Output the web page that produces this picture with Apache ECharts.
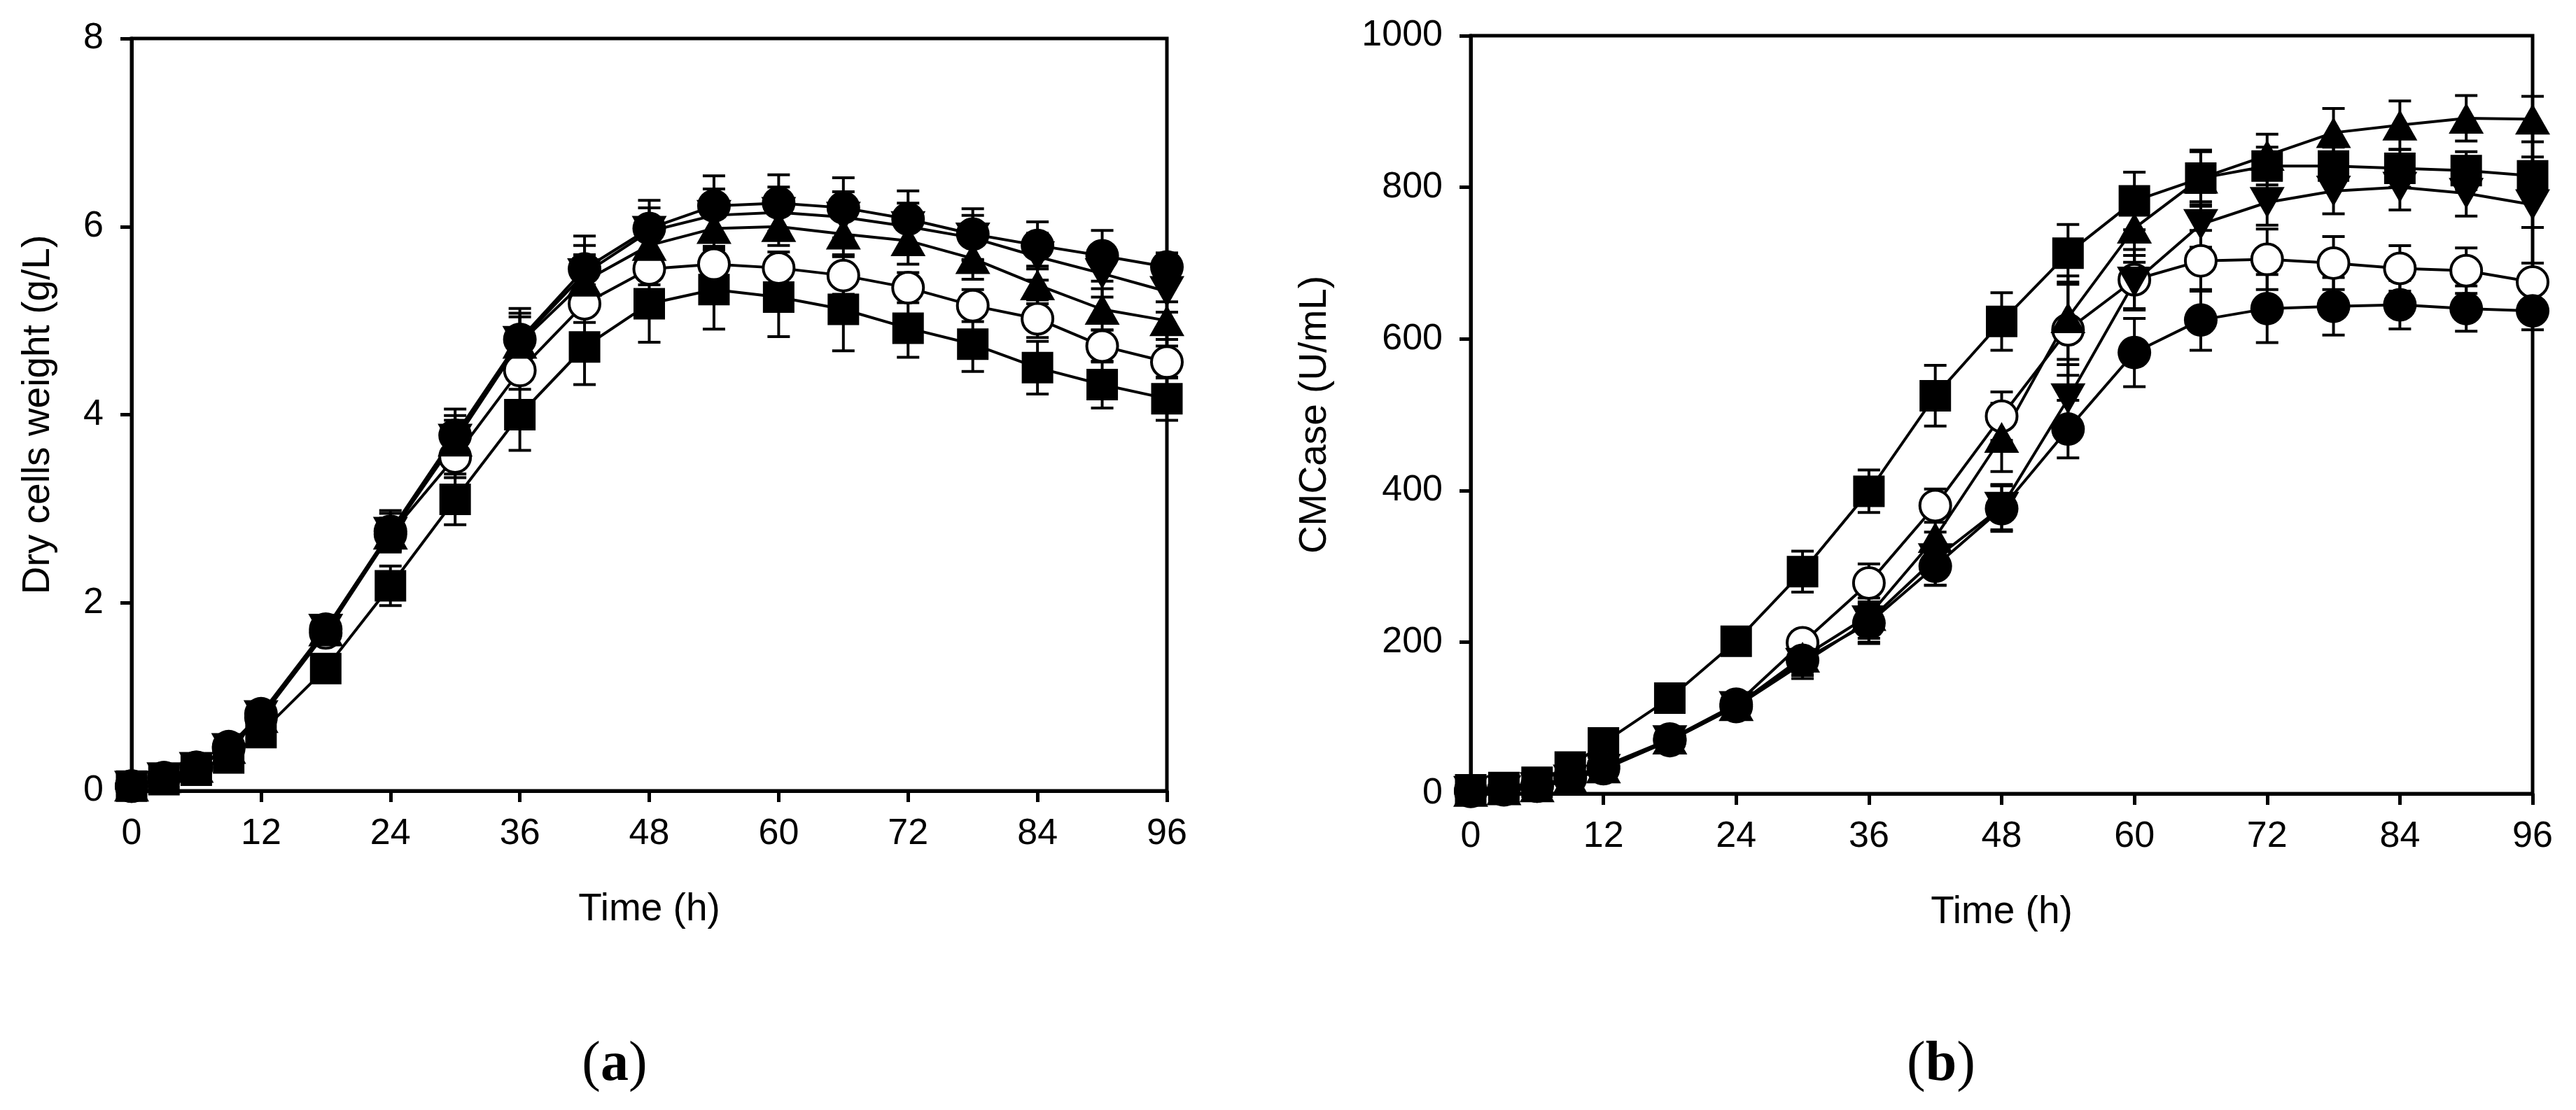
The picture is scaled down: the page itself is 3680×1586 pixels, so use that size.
<!DOCTYPE html>
<html>
<head>
<meta charset="utf-8">
<script src="https://cdn.jsdelivr.net/npm/echarts@6/dist/echarts.min.js"></script>
<style>html,body{margin:0;background:#fff}#main{width:3680px;height:1586px}</style>
</head>
<body>
<div id="main"></div>
<script>
var hours = [0,3,6,9,12,18,24,30,36,42,48,54,60,66,72,78,84,90,96];

// (a) dry cells weight, g/L
var dcwSquare = [0.05,0.12,0.22,0.35,0.62,1.30,2.18,3.10,4.00,4.72,5.18,5.33,5.25,5.12,4.92,4.75,4.50,4.32,4.17];
var dcwOpen   = [0.05,0.14,0.25,0.45,0.78,1.68,2.73,3.55,4.47,5.18,5.55,5.60,5.56,5.48,5.35,5.16,5.02,4.73,4.56];
var dcwUp     = [0.05,0.14,0.25,0.45,0.78,1.70,2.73,3.72,4.76,5.42,5.80,5.98,6.00,5.92,5.85,5.66,5.38,5.12,5.00];
var dcwDown   = [0.05,0.14,0.25,0.45,0.80,1.72,2.75,3.74,4.78,5.50,5.95,6.12,6.15,6.10,6.00,5.88,5.68,5.50,5.31];
var dcwCircle = [0.05,0.14,0.25,0.47,0.82,1.72,2.76,3.78,4.80,5.55,5.98,6.22,6.25,6.20,6.08,5.92,5.80,5.69,5.57];
var dcwErrSquare = [0.02,0.03,0.04,0.06,0.08,0.10,0.21,0.27,0.38,0.40,0.41,0.42,0.42,0.44,0.31,0.29,0.28,0.25,0.23];
var dcwErrOpen   = [0.02,0.03,0.04,0.05,0.08,0.10,0.16,0.22,0.20,0.20,0.17,0.19,0.17,0.20,0.16,0.17,0.20,0.17,0.17];
var dcwErrUp     = [0.02,0.03,0.04,0.05,0.08,0.10,0.17,0.22,0.28,0.28,0.20,0.22,0.20,0.22,0.25,0.22,0.20,0.22,0.20];
var dcwErrDown   = [0.02,0.03,0.04,0.05,0.08,0.12,0.20,0.25,0.30,0.30,0.25,0.28,0.27,0.27,0.25,0.24,0.25,0.25,0.22];
var dcwErrCircle = [0.02,0.03,0.04,0.06,0.10,0.14,0.22,0.28,0.33,0.35,0.30,0.32,0.30,0.32,0.30,0.27,0.25,0.27,0.15];

// (b) CMCase, U/mL
var cmSquare = [5,8,15,35,67,126,201,293,399,525,623,713,782,812,828,828,825,822,815];
var cmOpen   = [4,6,10,22,36,72,118,199,278,380,498,612,678,703,705,700,693,690,675];
var cmUp     = [3,5,9,20,34,72,116,180,235,338,470,628,746,812,842,872,882,891,890];
var cmDown   = [3,4,8,18,32,70,115,172,228,310,378,521,675,751,780,795,800,792,777];
var cmCircle = [3,5,10,20,33,70,115,176,225,300,376,481,582,625,640,643,645,640,637];
var cmErrSquare = [2,3,4,6,8,8,10,27,28,40,38,38,38,37,25,25,25,25,25];
var cmErrOpen   = [2,2,3,4,5,6,10,15,25,22,32,60,40,40,40,35,30,30,25];
var cmErrUp     = [2,2,3,4,5,6,10,20,30,35,45,55,45,35,28,32,32,30,30];
var cmErrDown   = [2,2,3,4,5,6,10,20,30,35,30,45,35,30,30,30,30,30,30];
var cmErrCircle = [2,2,3,4,5,6,10,20,25,25,30,38,45,40,45,38,32,30,25];

var FONT = 'Liberation Sans, Arial, sans-serif';

var pairs = function(vals){
	var d = [];
	for (var i = 0; i < hours.length; i++) d.push([hours[i], vals[i]]);
	return d;
};

var createErrors = function(idx, vals, errs){
	var d = [];
	for (var i = 0; i < hours.length; i++) d.push([hours[i], vals[i], errs[i]]);
	return {
		type: 'custom', xAxisIndex: idx, yAxisIndex: idx, data: d, z: 1,
		encode: {x: 0, y: 1}, silent: true,
		renderItem: function(params, api){
			var x = api.value(0), y = api.value(1), e = api.value(2);
			var hi = api.coord([x, y + e]), lo = api.coord([x, y - e]);
			var w = 16, st = {stroke: '#000', lineWidth: 4};
			return {type: 'group', children: [
				{type: 'line', shape: {x1: hi[0], y1: hi[1], x2: lo[0], y2: lo[1]}, style: st},
				{type: 'line', shape: {x1: hi[0] - w, y1: hi[1], x2: hi[0] + w, y2: hi[1]}, style: st},
				{type: 'line', shape: {x1: lo[0] - w, y1: lo[1], x2: lo[0] + w, y2: lo[1]}, style: st}
			]};
		}
	};
};

var createLine = function(idx, vals, symbol, fill, rotate, size){
	return {
		type: 'line', xAxisIndex: idx, yAxisIndex: idx, data: pairs(vals), z: 2,
		symbol: symbol, symbolSize: size, symbolRotate: rotate, showAllSymbol: true,
		clip: false,
		lineStyle: {color: '#000', width: 4},
		itemStyle: {color: fill, borderColor: '#000', borderWidth: fill == '#fff' ? 4 : 0, opacity: 1}
	};
};

var xAxisOf = function(idx){
	return {
		type: 'value', gridIndex: idx, min: 0, max: 96, interval: 12,
		name: 'Time (h)', nameLocation: 'middle', nameGap: 142,
		nameTextStyle: {fontFamily: FONT, fontSize: 55, color: '#000'},
		axisLine: {onZero: false, lineStyle: {color: '#000', width: 5}},
		axisTick: {length: 16, lineStyle: {color: '#000', width: 5}},
		axisLabel: {fontFamily: FONT, fontSize: 52, color: '#000', margin: 36},
		splitLine: {show: false}
	};
};

var yAxisOf = function(idx, name, max, step, gap){
	return {
		type: 'value', gridIndex: idx, min: 0, max: max, interval: step,
		name: name, nameLocation: 'middle', nameGap: gap, nameRotate: 90,
		nameTextStyle: {fontFamily: FONT, fontSize: 55, color: '#000'},
		axisLine: {lineStyle: {color: '#000', width: 5}},
		axisTick: {length: 16, lineStyle: {color: '#000', width: 5}},
		axisLabel: {fontFamily: FONT, fontSize: 52, color: '#000', margin: 40,
			formatter: function(v){ return String(v); }},
		splitLine: {show: false}
	};
};

var myChart = echarts.init(document.getElementById('main'));
var option = {
	backgroundColor: '#fff',
	animation: false,
	grid: [
		{left: 188, top: 55, width: 1479, height: 1075, show: true, borderColor: '#000', borderWidth: 5},
		{left: 2101, top: 51, width: 1517, height: 1083, show: true, borderColor: '#000', borderWidth: 5}
	],
	xAxis: [xAxisOf(0), xAxisOf(1)],
	yAxis: [
		yAxisOf(0, 'Dry cells weight (g/L)', 8, 2, 106),
		yAxisOf(1, 'CMCase (U/mL)', 1000, 200, 195)
	],
	graphic: [
		{type: 'text', x: 878, y: 1522, style: {text: '{p|(}{b|a}{p|)}', align: 'center', verticalAlign: 'middle',
			rich: {p: {fontFamily: 'Liberation Serif', fontSize: 80, fill: '#000'}, b: {fontFamily: 'Liberation Serif', fontSize: 80, fontWeight: 'bold', fill: '#000'}}}},
		{type: 'text', x: 2773, y: 1522, style: {text: '{p|(}{b|b}{p|)}', align: 'center', verticalAlign: 'middle',
			rich: {p: {fontFamily: 'Liberation Serif', fontSize: 80, fill: '#000'}, b: {fontFamily: 'Liberation Serif', fontSize: 80, fontWeight: 'bold', fill: '#000'}}}}
	],
	series: [
		createErrors(0, dcwSquare, dcwErrSquare),
		createErrors(0, dcwOpen, dcwErrOpen),
		createErrors(0, dcwUp, dcwErrUp),
		createErrors(0, dcwDown, dcwErrDown),
		createErrors(0, dcwCircle, dcwErrCircle),
		createLine(0, dcwSquare, 'rect', '#000', 0, 45),
		createLine(0, dcwOpen, 'circle', '#fff', 0, 44),
		createLine(0, dcwUp, 'triangle', '#000', 0, [50, 44]),
		createLine(0, dcwDown, 'triangle', '#000', 180, [50, 44]),
		createLine(0, dcwCircle, 'circle', '#000', 0, 48),
		createErrors(1, cmSquare, cmErrSquare),
		createErrors(1, cmOpen, cmErrOpen),
		createErrors(1, cmUp, cmErrUp),
		createErrors(1, cmDown, cmErrDown),
		createErrors(1, cmCircle, cmErrCircle),
		createLine(1, cmSquare, 'rect', '#000', 0, 45),
		createLine(1, cmOpen, 'circle', '#fff', 0, 44),
		createLine(1, cmUp, 'triangle', '#000', 0, [50, 44]),
		createLine(1, cmDown, 'triangle', '#000', 180, [50, 44]),
		createLine(1, cmCircle, 'circle', '#000', 0, 48)
	]
};
myChart.setOption(option);
window.onresize = function(){
	myChart.resize();
};
</script>
</body>
</html>
